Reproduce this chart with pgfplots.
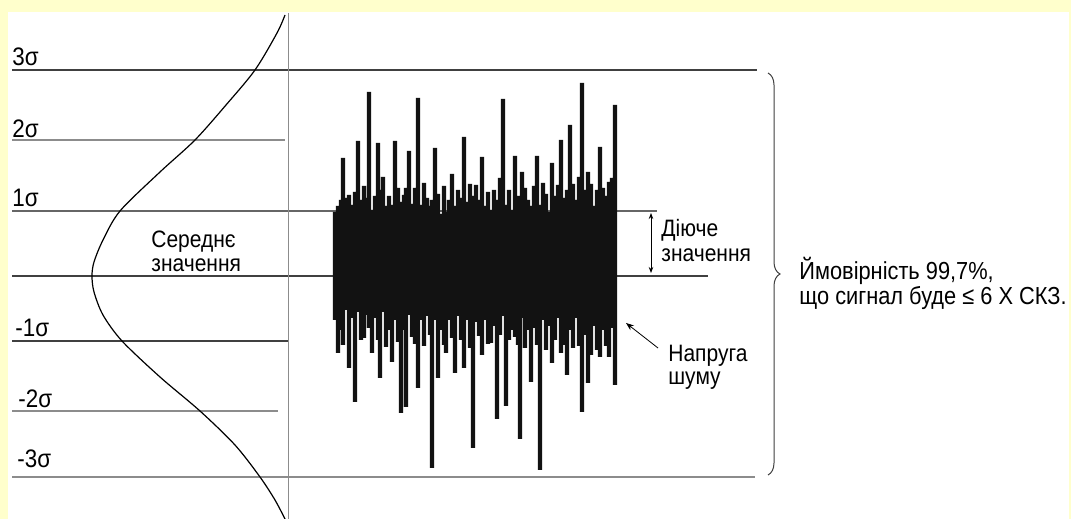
\documentclass[border=0pt]{standalone}
\usepackage{pgfplots}
\pgfplotsset{compat=1.18}
\usepackage{pgfplotstable}
\usepackage{graphicx}
\usepackage{fontspec}
\setmainfont{Liberation Sans}
\usetikzlibrary{decorations.pathreplacing,arrows.meta}
\definecolor{bgyellow}{HTML}{FFFFCC}
\definecolor{linedark}{HTML}{404040}
\definecolor{linegray}{HTML}{8C8C8C}
\newcommand{\tall}[1]{\scalebox{1}[1.13]{#1}}

% noise bars: x position, top and bottom (pixel rows of the picture)
\pgfplotstableread{
x top bot
335 212 320
338 206 353
341 200 330
343 158 345
346 198 310
349 195 368
352 205 318
355 192 402
358 141 312
361 200 340
364 186 338
367 198 315
369 92 328
372 210 353
375 196 318
378 143 340
380 190 378
383 177 312
386 206 347
389 196 330
392 205 362
395 141 320
398 188 342
401 202 413
404 195 330
406 188 407
409 151 315
412 204 337
415 188 344
418 98 388
421 205 320
424 183 346
427 198 316
430 206 335
432 200 468
435 148 320
438 194 378
441 214 330
444 186 345
446 212 353
449 200 320
452 174 338
455 206 373
458 190 316
461 198 340
464 137 368
467 202 320
470 184 348
473 196 448
476 185 322
479 200 336
482 157 355
485 206 320
488 192 344
491 210 343
494 190 326
497 200 419
500 178 335
503 99 316
506 205 406
509 190 340
512 210 330
515 156 337
518 196 345
520 206 439
522 172 318
525 188 348
528 200 330
531 206 382
534 186 328
537 156 345
540 205 470
543 183 320
546 194 350
549 212 326
552 163 363
555 196 340
558 185 318
561 140 353
564 198 345
567 190 375
570 125 330
573 184 348
576 200 318
579 177 346
582 83 412
585 190 335
588 172 383
591 184 355
594 206 326
597 190 350
600 147 357
603 188 330
606 196 346
609 182 357
612 178 328
615 105 385
}\noise

\begin{document}
\begin{tikzpicture}
\fill[bgyellow] (0,0) rectangle (535.5pt,259.5pt);
\fill[white] (4pt,0) rectangle (534.6pt,253.5pt);
\begin{axis}[
  name=ax,
  scale only axis,
  width=535.5pt, height=259.5pt,
  xmin=0, xmax=1071, ymin=-243, ymax=276,
  axis lines=none,
  clip=false,
  font=\fontsize{10.5}{12}\selectfont,
]
% sigma lines
\addplot[linedark, line width=0.7pt] coordinates {(12,206) (757,206)};
\addplot[linegray, line width=0.7pt] coordinates {(12,136) (285,136)};
\addplot[linedark!80, line width=0.7pt] coordinates {(12,65) (657,65)};
\addplot[linedark, line width=0.7pt] coordinates {(12,0) (708,0)};
\addplot[linedark, line width=0.7pt] coordinates {(12,-65) (288,-65)};
\addplot[linegray, line width=0.7pt] coordinates {(12,-135) (278,-135)};
\addplot[linegray, line width=0.7pt] coordinates {(12,-201) (755,-201)};
% vertical axis
\addplot[linegray, line width=0.7pt] coordinates {(288.5,263) (288.5,-243)};
% distribution curve
\addplot[black, line width=0.6pt, smooth] coordinates {
  (285,261) (277,243) (255,206) (226,171) (195,136) (160,104) (120,65)
  (103,36) (94,14) (92,0) (94,-16) (103,-39) (122,-65) (160,-101)
  (200,-135) (235,-169) (260,-201) (275,-224) (285,-243)};
% noise
\addplot[ybar, bar width=2.1pt, bar shift=0pt, fill=black!93, draw=none]
  table[x=x, y expr=276-\thisrow{top}] {\noise};
\addplot[ybar, bar width=2.1pt, bar shift=0pt, fill=black!93, draw=none]
  table[x=x, y expr=276-\thisrow{bot}] {\noise};

% labels
\begin{scope}[every node/.style={anchor=base west, inner sep=0pt, font=\fontsize{11.2}{13}\selectfont}]
\node at (axis cs:12,210) {\tall{3σ}};
\node at (axis cs:12,138) {\tall{2σ}};
\node at (axis cs:12,69) {\tall{1σ}};
\node at (axis cs:15,-61) {\tall{-1σ}};
\node at (axis cs:18,-132) {\tall{-2σ}};
\node at (axis cs:17,-192) {\tall{-3σ}};
\end{scope}
\begin{scope}[every node/.style={anchor=base west, inner sep=0pt}]
\node at (axis cs:151,28) {\tall{Середнє}};
\node at (axis cs:151,4) {\tall{значення}};
\node at (axis cs:661,39) {\tall{Діюче}};
\node at (axis cs:661,14) {\tall{значення}};
\node at (axis cs:668,-86) {\tall{Напруга}};
\node at (axis cs:668,-109) {\tall{шуму}};
\node[font=\fontsize{10.9}{12}\selectfont] at (axis cs:799,-4) {\tall{Ймовірність 99,7\%,}};
\node[font=\fontsize{10.9}{12}\selectfont] at (axis cs:799,-29) {\tall{що сигнал буде ≤ 6 Х СКЗ.}};
\end{scope}
% arrows
\draw[{Stealth[length=3pt]}-{Stealth[length=3pt]}, line width=0.4pt] (axis cs:651,63) -- (axis cs:651,3);
\draw[-{Stealth[length=4pt]}, line width=0.4pt] (axis cs:658,-72) -- (axis cs:626,-47);
% brace
\draw[linedark, line width=0.5pt, decorate, decoration={brace, amplitude=6pt}]
  (axis cs:768,203) -- (axis cs:768,-199);
\end{axis}
\pgfresetboundingbox
\useasboundingbox (0,0) rectangle (535.5pt,259.5pt);
\end{tikzpicture}
\end{document}
